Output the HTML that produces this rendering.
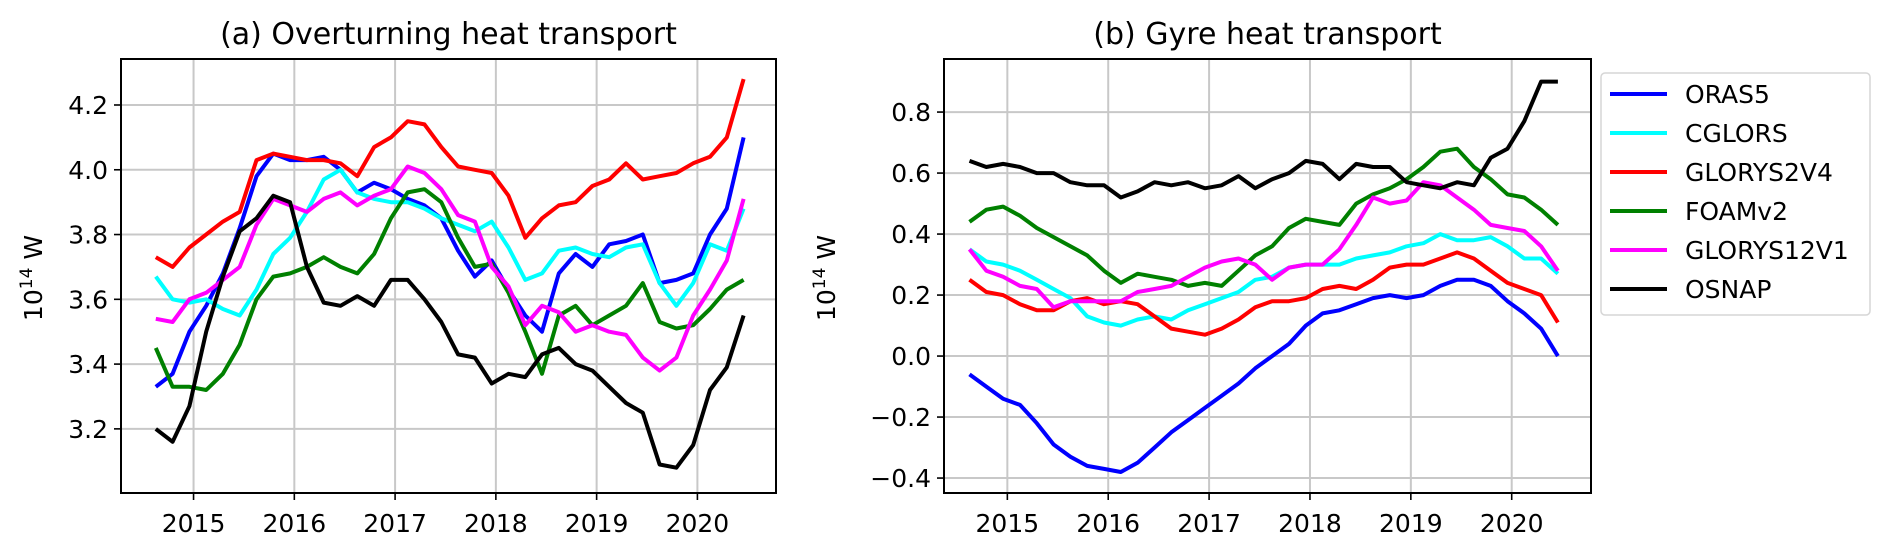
<!DOCTYPE html>
<html><head><meta charset="utf-8"><style>
html,body{margin:0;padding:0;background:#fff;}
svg{display:block;font-family:"DejaVu Sans","Liberation Sans",sans-serif;}
</style></head><body>
<svg id="chart" width="1892" height="552" viewBox="0 0 1892 552"></svg>
<script>
const startYear = 2014.625;
const stepYears = 1/6;
const yearTicks = [2015, 2016, 2017, 2018, 2019, 2020];
const leftTicks = [3.2, 3.4, 3.6, 3.8, 4.0, 4.2];
const rightTicks = [-0.4, -0.2, 0.0, 0.2, 0.4, 0.6, 0.8];
const seriesNames = ["ORAS5", "CGLORS", "GLORYS2V4", "FOAMv2", "GLORYS12V1", "OSNAP"];
const seriesColors = ["#0000ff", "#00ffff", "#ff0000", "#008000", "#ff00ff", "#000000"];

const leftORAS5 = [3.33,3.37,3.50,3.58,3.68,3.82,3.98,4.05,4.03,4.03,4.04,4.00,3.93,3.96,3.94,3.91,3.89,3.85,3.75,3.67,3.72,3.63,3.55,3.50,3.68,3.74,3.70,3.77,3.78,3.80,3.65,3.66,3.68,3.80,3.88,4.10];
const leftCGLORS = [3.67,3.60,3.59,3.60,3.57,3.55,3.63,3.74,3.79,3.87,3.97,4.00,3.93,3.91,3.90,3.90,3.88,3.85,3.83,3.81,3.84,3.76,3.66,3.68,3.75,3.76,3.74,3.73,3.76,3.77,3.65,3.58,3.65,3.77,3.75,3.88];
const leftGLORYS2V4 = [3.73,3.70,3.76,3.80,3.84,3.87,4.03,4.05,4.04,4.03,4.03,4.02,3.98,4.07,4.10,4.15,4.14,4.07,4.01,4.00,3.99,3.92,3.79,3.85,3.89,3.90,3.95,3.97,4.02,3.97,3.98,3.99,4.02,4.04,4.10,4.28];
const leftFOAMv2 = [3.45,3.33,3.33,3.32,3.37,3.46,3.60,3.67,3.68,3.70,3.73,3.70,3.68,3.74,3.85,3.93,3.94,3.90,3.79,3.70,3.71,3.62,3.50,3.37,3.55,3.58,3.52,3.55,3.58,3.65,3.53,3.51,3.52,3.57,3.63,3.66];
const leftGLORYS12V1 = [3.54,3.53,3.60,3.62,3.66,3.70,3.83,3.91,3.89,3.87,3.91,3.93,3.89,3.92,3.94,4.01,3.99,3.94,3.86,3.84,3.70,3.64,3.52,3.58,3.56,3.50,3.52,3.50,3.49,3.42,3.38,3.42,3.55,3.63,3.72,3.91];
const leftOSNAP = [3.20,3.16,3.27,3.50,3.67,3.81,3.85,3.92,3.90,3.70,3.59,3.58,3.61,3.58,3.66,3.66,3.60,3.53,3.43,3.42,3.34,3.37,3.36,3.43,3.45,3.40,3.38,3.33,3.28,3.25,3.09,3.08,3.15,3.32,3.39,3.55];

const rightORAS5 = [-0.06,-0.10,-0.14,-0.16,-0.22,-0.29,-0.33,-0.36,-0.37,-0.38,-0.35,-0.30,-0.25,-0.21,-0.17,-0.13,-0.09,-0.04,0.00,0.04,0.10,0.14,0.15,0.17,0.19,0.20,0.19,0.20,0.23,0.25,0.25,0.23,0.18,0.14,0.09,0.00];
const rightCGLORS = [0.35,0.31,0.30,0.28,0.25,0.22,0.19,0.13,0.11,0.10,0.12,0.13,0.12,0.15,0.17,0.19,0.21,0.25,0.26,0.29,0.30,0.30,0.30,0.32,0.33,0.34,0.36,0.37,0.40,0.38,0.38,0.39,0.36,0.32,0.32,0.27];
const rightGLORYS2V4 = [0.25,0.21,0.20,0.17,0.15,0.15,0.18,0.19,0.17,0.18,0.17,0.13,0.09,0.08,0.07,0.09,0.12,0.16,0.18,0.18,0.19,0.22,0.23,0.22,0.25,0.29,0.30,0.30,0.32,0.34,0.32,0.28,0.24,0.22,0.20,0.11];
const rightFOAMv2 = [0.44,0.48,0.49,0.46,0.42,0.39,0.36,0.33,0.28,0.24,0.27,0.26,0.25,0.23,0.24,0.23,0.28,0.33,0.36,0.42,0.45,0.44,0.43,0.50,0.53,0.55,0.58,0.62,0.67,0.68,0.62,0.58,0.53,0.52,0.48,0.43];
const rightGLORYS12V1 = [0.35,0.28,0.26,0.23,0.22,0.16,0.18,0.18,0.18,0.18,0.21,0.22,0.23,0.26,0.29,0.31,0.32,0.30,0.25,0.29,0.30,0.30,0.35,0.43,0.52,0.50,0.51,0.57,0.56,0.52,0.48,0.43,0.42,0.41,0.36,0.28];
const rightOSNAP = [0.64,0.62,0.63,0.62,0.60,0.60,0.57,0.56,0.56,0.52,0.54,0.57,0.56,0.57,0.55,0.56,0.59,0.55,0.58,0.60,0.64,0.63,0.58,0.63,0.62,0.62,0.57,0.56,0.55,0.57,0.56,0.65,0.68,0.77,0.90,0.90];

const NS = "http://www.w3.org/2000/svg";
const svg = document.getElementById("chart");
function mk(tag, attrs, parent) {
  const e = document.createElementNS(NS, tag);
  for (const k in attrs) e.setAttribute(k, attrs[k]);
  (parent || svg).appendChild(e);
  return e;
}

function panel(cfg) {
  const g = mk("g", {});
  
  
  const X = y => cfg.left + (y - cfg.x0) / (cfg.x1 - cfg.x0) * (cfg.right - cfg.left);
  const Y = v => cfg.bottom - (v - cfg.y0) / (cfg.y1 - cfg.y0) * (cfg.bottom - cfg.top);
  // grid
  yearTicks.forEach(t => {
    const l = mk("line", {x1: X(t), x2: X(t), y1: cfg.top, y2: cfg.bottom, stroke: "#c8c8c8", "stroke-width": 2}, g);
    
    
    const tk = mk("line", {x1: X(t), x2: X(t), y1: cfg.bottom, y2: cfg.bottom + 7, stroke: "#000", "stroke-width": 1.6}, g);
    
    
    const tx = mk("text", {x: X(t), y: 532, "text-anchor": "middle", "font-size": 25, fill: "#000"}, g);
    tx.textContent = t;
    
    
  });
  cfg.yticks.forEach(t => {
    const l = mk("line", {x1: cfg.left, x2: cfg.right, y1: Y(t), y2: Y(t), stroke: "#c8c8c8", "stroke-width": 2}, g);
    
    
    const tk = mk("line", {x1: cfg.left - 7, x2: cfg.left, y1: Y(t), y2: Y(t), stroke: "#000", "stroke-width": 1.6}, g);
    
    
    const tx = mk("text", {x: cfg.left - 13, y: Y(t) + 9, "text-anchor": "end", "font-size": 25, fill: "#000"}, g);
    tx.textContent = (t < 0 ? "\u2212" + Math.abs(t).toFixed(1) : t.toFixed(1));
    
    
  });
  // series
  cfg.series.forEach((arr, i) => {
    const pts = arr.map((v, k) => X(startYear + k * stepYears).toFixed(1) + "," + Y(v).toFixed(1)).join(" ");
    const p = mk("polyline", {points: pts, fill: "none", stroke: seriesColors[i], "stroke-width": 4, "stroke-linejoin": "round"}, g);
    
    
  });
  const fr = mk("rect", {x: cfg.left, y: cfg.top, width: cfg.right - cfg.left, height: cfg.bottom - cfg.top, fill: "none", stroke: "#000", "stroke-width": 2}, g);
  
  
  const ti = mk("text", {x: (cfg.left + cfg.right) / 2, y: 44, "text-anchor": "middle", "font-size": 30, fill: "#000"}, g);
  ti.textContent = cfg.title;
  
  
  const yl = mk("text", {x: 0, y: 0, transform: "translate(" + (cfg.ylabX + 9) + ",278) rotate(-90)", "text-anchor": "middle", "font-size": 25, fill: "#000"}, g);
  yl.innerHTML = '10<tspan dy="-10" font-size="17">14</tspan><tspan dy="10"> W</tspan>';
  
  
}

panel({name: "overturning-panel", title: "(a) Overturning heat transport", left: 121, right: 776, top: 59, bottom: 493,
  x0: 2014.28, x1: 2020.78, y0: 3.002, y1: 4.342, yticks: leftTicks, ylabX: 33,
  series: [leftORAS5, leftCGLORS, leftGLORYS2V4, leftFOAMv2, leftGLORYS12V1, leftOSNAP]});
panel({name: "gyre-panel", title: "(b) Gyre heat transport", left: 944, right: 1591, top: 59, bottom: 493,
  x0: 2014.372, x1: 2020.786, y0: -0.449, y1: 0.974, yticks: rightTicks, ylabX: 826,
  series: [rightORAS5, rightCGLORS, rightGLORYS2V4, rightFOAMv2, rightGLORYS12V1, rightOSNAP]});

// legend
const lg = mk("g", {});


const lb = mk("rect", {x: 1601, y: 73, width: 269, height: 242, rx: 4, fill: "#fff", stroke: "#d6d6d6", "stroke-width": 1.5}, lg);


seriesNames.forEach((n, i) => {
  const y = 94 + i * 39;
  const l = mk("line", {x1: 1610, x2: 1667, y1: y, y2: y, stroke: seriesColors[i], "stroke-width": 4}, lg);
  
  
  const t = mk("text", {x: 1685, y: y + 9, "font-size": 25, fill: "#000"}, lg);
  t.textContent = n;
  
  
});
</script>
</body></html>
